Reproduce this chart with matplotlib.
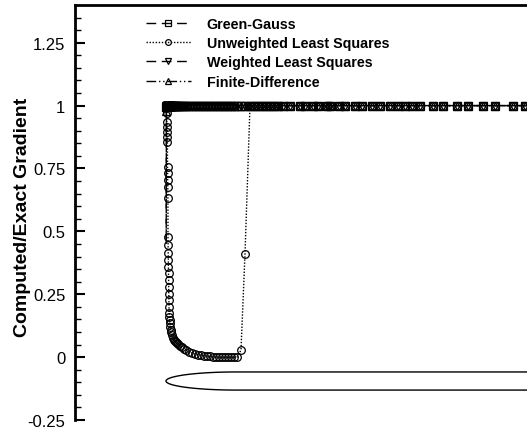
import numpy as np
import matplotlib.pyplot as plt

plt.rcParams['font.family'] = ['Liberation Sans', 'DejaVu Sans']

# distance along the grid line (leading edge at 0)
x_pts = [0.002, 0.004, 0.006, 0.008, 0.010, 0.012, 0.013, 0.014, 0.015, 0.016,
         0.017, 0.018, 0.019, 0.020, 0.021, 0.022, 0.023, 0.024, 0.025, 0.026,
         0.027, 0.028, 0.029, 0.030, 0.032, 0.034, 0.036, 0.038, 0.040, 0.045,
         0.050, 0.060, 0.070, 0.080, 0.090, 0.10, 0.11, 0.12, 0.14, 0.16,
         0.18, 0.20, 0.23, 0.26, 0.29, 0.32, 0.35, 0.38, 0.41, 0.44,
         0.47, 0.50, 0.53, 0.56, 0.59, 0.62, 0.65, 0.68, 0.71, 0.75,
         0.79, 0.84, 0.88, 0.92, 0.96, 1.00, 1.04, 1.08, 1.12, 1.17,
         1.24, 1.34, 1.39, 1.47, 1.52, 1.61, 1.64, 1.73, 1.79, 1.89,
         1.96, 2.06, 2.14, 2.24, 2.32, 2.39, 2.46, 2.54, 2.67, 2.77,
         2.91, 3.02, 3.17, 3.29, 3.47, 3.59, 3.79]

green_gauss = [0.45, 0.995, 1.0, 1.0, 1.0, 1.0, 1.0, 1.0, 1.0, 1.0,
               1.0, 1.0, 1.0, 1.0, 1.0, 1.0, 1.0, 1.0, 1.0, 1.0,
               1.0, 1.0, 1.0, 1.0, 1.0, 1.0, 1.0, 1.0, 1.0, 1.0,
               1.0, 1.0, 1.0, 1.0, 1.0, 1.0, 1.0, 1.0, 1.0, 1.0,
               1.0, 1.0, 1.0, 1.0, 1.0, 1.0, 1.0, 1.0, 1.0, 1.0,
               1.0, 1.0, 1.0, 1.0, 1.0, 1.0, 1.0, 1.0, 1.0, 1.0,
               1.0, 1.0, 1.0, 1.0, 1.0, 1.0, 1.0, 1.0, 1.0, 1.0,
               1.0, 1.0, 1.0, 1.0, 1.0, 1.0, 1.0, 1.0, 1.0, 1.0,
               1.0, 1.0, 1.0, 1.0, 1.0, 1.0, 1.0, 1.0, 1.0, 1.0,
               1.0, 1.0, 1.0, 1.0, 1.0, 1.0, 1.0]

unweighted_ls = [1.0, 0.99, 0.97, 0.933, 0.913, 0.897, 0.877, 0.857, 0.754, 0.734,
                 0.706, 0.678, 0.634, 0.478, 0.447, 0.415, 0.387, 0.359, 0.335, 0.307,
                 0.279, 0.251, 0.227, 0.199, 0.175, 0.160, 0.148, 0.135, 0.120, 0.108,
                 0.098, 0.088, 0.078, 0.070, 0.064, 0.060, 0.056, 0.052, 0.045, 0.039,
                 0.034, 0.029, 0.022, 0.017, 0.013, 0.010, 0.008, 0.006, 0.004, 0.003,
                 0.002, 0.001, 0.0, 0.0, 0.0, 0.0, 0.0, 0.0, 0.0, 0.028,
                 0.41, 1.0, 1.0, 1.0, 1.0, 1.0, 1.0, 1.0, 1.0, 1.0,
                 1.0, 1.0, 1.0, 1.0, 1.0, 1.0, 1.0, 1.0, 1.0, 1.0,
                 1.0, 1.0, 1.0, 1.0, 1.0, 1.0, 1.0, 1.0, 1.0, 1.0,
                 1.0, 1.0, 1.0, 1.0, 1.0, 1.0, 1.0]

weighted_ls = [0.47, 0.997, 1.0, 1.0, 1.0, 1.0, 1.0, 1.0, 1.0, 1.0,
               1.0, 1.0, 1.0, 1.0, 1.0, 1.0, 1.0, 1.0, 1.0, 1.0,
               1.0, 1.0, 1.0, 1.0, 1.0, 1.0, 1.0, 1.0, 1.0, 1.0,
               1.0, 1.0, 1.0, 1.0, 1.0, 1.0, 1.0, 1.0, 1.0, 1.0,
               1.0, 1.0, 1.0, 1.0, 1.0, 1.0, 1.0, 1.0, 1.0, 1.0,
               1.0, 1.0, 1.0, 1.0, 1.0, 1.0, 1.0, 1.0, 1.0, 1.0,
               1.0, 1.0, 1.0, 1.0, 1.0, 1.0, 1.0, 1.0, 1.0, 1.0,
               1.0, 1.0, 1.0, 1.0, 1.0, 1.0, 1.0, 1.0, 1.0, 1.0,
               1.0, 1.0, 1.0, 1.0, 1.0, 1.0, 1.0, 1.0, 1.0, 1.0,
               1.0, 1.0, 1.0, 1.0, 1.0, 1.0, 1.0]

finite_diff = [0.98, 0.995, 1.0, 1.0, 1.0, 1.0, 1.0, 1.0, 1.0, 1.0,
               1.0, 1.0, 1.0, 1.0, 1.0, 1.0, 1.0, 1.0, 1.0, 1.0,
               1.0, 1.0, 1.0, 1.0, 1.0, 1.0, 1.0, 1.0, 1.0, 1.0,
               1.0, 1.0, 1.0, 1.0, 1.0, 1.0, 1.0, 1.0, 1.0, 1.0,
               1.0, 1.0, 1.0, 1.0, 1.0, 1.0, 1.0, 1.0, 1.0, 1.0,
               1.0, 1.0, 1.0, 1.0, 1.0, 1.0, 1.0, 1.0, 1.0, 1.0,
               1.0, 1.0, 1.0, 1.0, 1.0, 1.0, 1.0, 1.0, 1.0, 1.0,
               1.0, 1.0, 1.0, 1.0, 1.0, 1.0, 1.0, 1.0, 1.0, 1.0,
               1.0, 1.0, 1.0, 1.0, 1.0, 1.0, 1.0, 1.0, 1.0, 1.0,
               1.0, 1.0, 1.0, 1.0, 1.0, 1.0, 1.0]

labels = ['Green-Gauss', 'Unweighted Least Squares', 'Weighted Least Squares', 'Finite-Difference']
yticks = [-0.25, 0, 0.25, 0.5, 0.75, 1, 1.25]
ytick_labels = ['-0.25', '0', '0.25', '0.5', '0.75', '1', '1.25']

fig = plt.figure(figsize=(5.27, 4.31), dpi=100)
ax = fig.add_axes([75 / 527, 10 / 431, 1 - 75 / 527, 415 / 431])

mk = dict(color='black', lw=1.0, markersize=5.5, markerfacecolor='none', markeredgewidth=0.9)
ax.plot(x_pts, green_gauss, marker='s', dashes=(7, 4), markevery=slice(1, None), label=labels[0], **mk)
ax.plot(x_pts, unweighted_ls, marker='o', dashes=(1, 1.2), label=labels[1], **mk)
ax.plot(x_pts, weighted_ls, marker='v', dashes=(7, 4), markevery=slice(1, None), label=labels[2], **mk)
ax.plot(x_pts, finite_diff, marker='^', dashes=(7, 2, 1, 2, 1, 2), label=labels[3], **mk)

# body outline (thin elliptic nose with flat sides)
a, b, yc = 0.7, 0.036, -0.095
t = np.linspace(np.pi / 2, 3 * np.pi / 2, 120)
bx = np.concatenate([[6.0], a + a * np.cos(t), [6.0]])
by = np.concatenate([[yc + b], yc + b * np.sin(t), [yc - b]])
ax.plot(bx, by, color='black', lw=1.0)

ax.set_xlim(-0.91, 3.61)
ax.set_ylim(-0.25, 1.40)
ax.set_xticks([])
ax.set_yticks(yticks)
ax.set_yticklabels(ytick_labels, fontsize=12)
ax.set_yticks(np.arange(-0.25, 1.40, 0.05), minor=True)
ax.tick_params(axis='y', which='major', direction='in', length=7, width=1.5, pad=7)
ax.tick_params(axis='y', which='minor', direction='in', length=4, width=1)
for s in ['bottom', 'right']:
    ax.spines[s].set_visible(False)
for s in ['left', 'top']:
    ax.spines[s].set_linewidth(2)

ax.set_ylabel('Computed/Exact Gradient', fontsize=14, fontweight='bold')
ax.yaxis.set_label_coords(-0.098, 0.49)

ax.legend(loc='upper left', bbox_to_anchor=(0.141, 0.988), frameon=False, numpoints=1,
          prop={'weight': 'bold', 'size': 10.3}, handlelength=3.15, handletextpad=1.1,
          labelspacing=0.36, borderpad=0, markerscale=0.75)

fig.savefig('out.png', dpi=100)
